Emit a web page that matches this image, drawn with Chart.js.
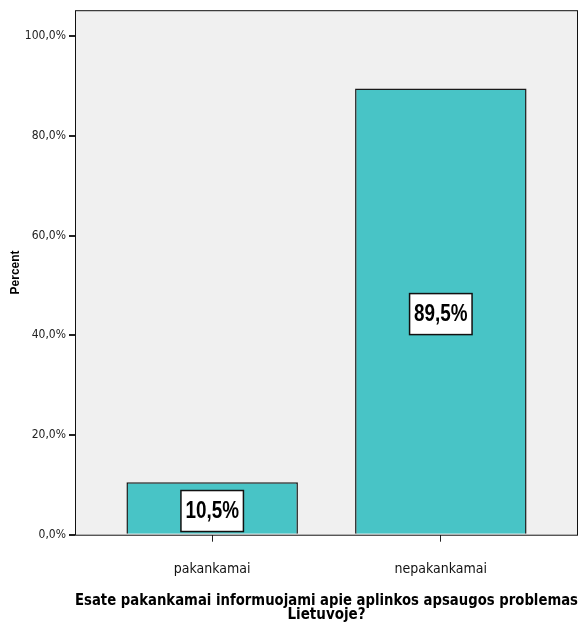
<!DOCTYPE html>
<html>
<head>
<meta charset="utf-8">
<script src="https://cdn.jsdelivr.net/npm/chart.js@4.4.1/dist/chart.umd.min.js"></script>
<style>
  html, body { margin: 0; padding: 0; background: #fff; }
  #wrap { width: 579px; height: 633px; }
</style>
</head>
<body>
<div id="wrap"><canvas id="chart"></canvas></div>
<script>
// ---------- data ----------
const categories = ['pakankamai', 'nepakankamai'];
const percents = [10.5, 89.5];
const yTicks = [0, 20, 40, 60, 80, 100];

const narrow = '"Liberation Sans Narrow", "DejaVu Sans Condensed", Arial, sans-serif';

const fmt = v => v.toFixed(1).replace('.', ',') + '%';

// plot background + frame
const plotBg = {
    id: 'plotBg',
    beforeDraw(chart) {
        const { ctx, chartArea: a } = chart;
        ctx.save();
        ctx.fillStyle = '#f0f0f0';
        ctx.fillRect(a.left, a.top, a.right - a.left, a.bottom - a.top);
        ctx.restore();
    },
    afterDraw(chart) {
        const { ctx, chartArea: a } = chart;
        ctx.save();
        ctx.strokeStyle = '#111';
        ctx.lineWidth = 1;
        ctx.strokeRect(a.left + 0.5, a.top + 0.5, a.right - a.left - 1, a.bottom - a.top);
        ctx.restore();
    }
};

// white boxed value labels in the middle of each bar
const boxLabels = {
    id: 'boxLabels',
    afterDatasetsDraw(chart) {
        const { ctx } = chart;
        const meta = chart.getDatasetMeta(0);
        const sx = 0.82; // squeeze the bold font like Arial Narrow
        ctx.save();
        ctx.font = 'bold 23px "Liberation Sans", Arial, sans-serif';
        ctx.textAlign = 'center';
        ctx.textBaseline = 'middle';
        meta.data.forEach((bar, i) => {
            const txt = fmt(percents[i]);
            const w = ctx.measureText(txt).width * sx + 9;
            const h = 41;
            const cx = bar.x;
            const cy = (bar.y + bar.base) / 2 + 3;
            ctx.fillStyle = '#fff';
            ctx.fillRect(cx - w / 2, cy - h / 2, w, h);
            ctx.strokeStyle = '#111';
            ctx.lineWidth = 1.5;
            ctx.strokeRect(cx - w / 2, cy - h / 2, w, h);
            ctx.save();
            ctx.translate(cx, cy + 1);
            ctx.scale(sx, 1);
            ctx.fillStyle = '#000';
            ctx.fillText(txt, 0, 0);
            ctx.restore();
        });
        ctx.restore();
    }
};

new Chart(document.getElementById('chart'), {
    type: 'bar',
    data: {
        datasets: [{
            data: percents.map((v, i) => ({ x: i, y: v })),
            backgroundColor: '#48c4c6',
            borderColor: '#1a1a1a',
            borderWidth: 1.5,
            barPercentage: 0.75,
            categoryPercentage: 1
        }]
    },
    options: {
        responsive: true,
        maintainAspectRatio: false,
        animation: false,
        layout: { padding: { top: 10, right: 1, left: 0, bottom: 0 } },
        plugins: {
            legend: { display: false },
            tooltip: { enabled: false }
        },
        scales: {
            x: {
                type: 'linear',
                min: -0.6,
                max: 1.6,
                offset: false,
                afterBuildTicks: s => { s.ticks = categories.map((c, i) => ({ value: i })); },
                grid: { display: true, offset: false, drawOnChartArea: false, tickLength: 7, color: '#222' },
                border: { display: false },
                ticks: {
                    callback: v => categories[v],
                    color: '#111',
                    font: { family: narrow, size: 14 },
                    padding: 19,
                    maxRotation: 0
                },
                title: {
                    display: true,
                    text: ['Esate pakankamai informuojami apie aplinkos apsaugos problemas', 'Lietuvoje?'],
                    color: '#000',
                    font: { family: narrow, size: 15, weight: 'bold', lineHeight: 0.95 },
                    padding: { top: -3, bottom: 11 }
                }
            },
            y: {
                min: 0,
                max: 105.2,
                afterBuildTicks: s => { s.ticks = yTicks.map(v => ({ value: v })); },
                afterFit: s => { s.width = 75; },
                grid: { display: true, drawOnChartArea: false, tickLength: 6, color: '#222', lineWidth: 2 },
                border: { display: false },
                ticks: {
                    callback: v => fmt(v),
                    color: '#222',
                    font: { family: narrow, size: 12 },
                    padding: 3
                },
                title: {
                    display: true,
                    text: 'Percent',
                    color: '#000',
                    font: { family: 'Arial, "Liberation Sans", sans-serif', size: 12, weight: 'bold' },
                    padding: { top: 8, bottom: 12 }
                }
            }
        }
    },
    plugins: [plotBg, boxLabels]
});
</script>
</body>
</html>
